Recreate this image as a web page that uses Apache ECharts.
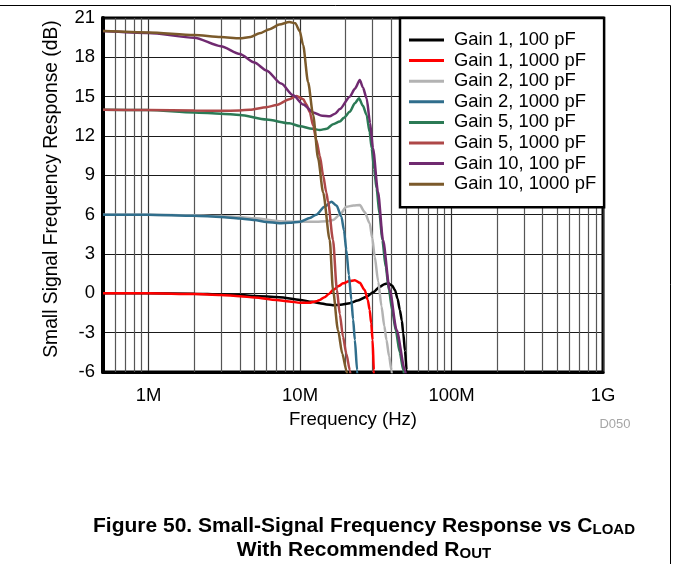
<!DOCTYPE html>
<html><head><meta charset="utf-8">
<script src="https://cdn.jsdelivr.net/npm/echarts@6/dist/echarts.min.js"></script>
<style>html,body{margin:0;padding:0;background:#fff}#c{width:673px;height:564px}</style>
</head><body><div id="c"></div>
<script>
// ---- data (frequency in MHz, response in dB) ----
const seriesNames = ['Gain 1, 100 pF','Gain 1, 1000 pF','Gain 2, 100 pF','Gain 2, 1000 pF','Gain 5, 100 pF','Gain 5, 1000 pF','Gain 10, 100 pF','Gain 10, 1000 pF'];
const seriesColors = ['#000000','#ff0000','#b3b3b3','#306e8c','#2b7a55','#ae4848','#702a70','#7b5a2b'];

const gain1_100pF = [[0.5,0.0],[1,0.0],[2,-0.03],[3,-0.08],[4,-0.13],[5,-0.2],[7.3,-0.3],[10,-0.5],[12,-0.65],[13.5,-0.75],[15,-0.85],[16.5,-0.9],[18.5,-0.88],[21.3,-0.76],[24,-0.55],[27.5,-0.26],[30.5,0.1],[33.6,0.5],[36,0.7],[38.2,0.76],[40.5,0.6],[42.3,0.25],[44,-0.4],[45.6,-1.27],[47,-2.1],[48,-3.05],[49.3,-4.4],[50.5,-5.85],[52,-8]];
const gain1_1000pF = [[0.5,0.0],[1,0.0],[2,-0.05],[3,-0.12],[4,-0.22],[5,-0.32],[7,-0.5],[8.5,-0.62],[10,-0.72],[11.5,-0.72],[12.8,-0.6],[13.5,-0.5],[14.5,-0.3],[15.5,-0.05],[16.5,0.25],[18,0.55],[19.2,0.76],[21,0.92],[23,1.0],[24.8,0.8],[26.7,0.25],[28,-0.5],[28.8,-1.27],[29.5,-2.3],[30.1,-3.56],[30.7,-5.85],[31.2,-8]];
const gain2_100pF = [[0.5,6.0],[1,6.0],[2,5.95],[3,5.9],[4,5.82],[5,5.72],[7.3,5.5],[10,5.46],[12.8,5.46],[15,5.5],[16.5,5.6],[18.3,6.0],[20.2,6.6],[22.5,6.7],[24.8,6.73],[26.7,6.2],[28.8,5.34],[30,4.2],[31.1,2.8],[32.8,0.9],[34.5,-1.0],[36,-2.5],[37.2,-3.56],[38.7,-4.8],[40.1,-5.85],[42,-8]];
const gain2_1000pF = [[0.5,6.0],[1,6.0],[2,5.92],[3,5.82],[4,5.7],[5,5.59],[6,5.45],[7.3,5.34],[8.5,5.38],[10,5.46],[11.6,5.75],[12.8,6.0],[14.5,6.6],[16.1,6.99],[17.4,6.7],[18.75,5.84],[19.5,4.8],[20.2,3.3],[21,1.4],[21.8,-0.5],[22.4,-2.0],[23,-3.56],[23.8,-5.85],[24.5,-8]];
const gain5_100pF = [[0.5,14.0],[1,13.98],[2,13.8],[3,13.7],[4,13.6],[6,13.25],[8.5,12.97],[10,12.75],[12,12.55],[13.5,12.46],[15,12.55],[16.5,12.9],[18.3,13.1],[19.5,13.4],[21.3,13.85],[23,14.5],[24.5,14.87],[26,14.3],[27.5,13.6],[28.8,12.3],[29.7,11.07],[30.8,9.5],[32,8.0],[33.5,6.0],[34.9,4.07],[36.8,2.0],[38.6,0.25],[40.6,-1.3],[42.8,-2.8],[45.5,-4.5],[48,-5.85],[50,-7],[52,-8]];
const gain5_1000pF = [[0.5,14.0],[1,13.98],[2,13.95],[3,13.92],[4,13.95],[4.65,14.0],[6,14.2],[7,14.36],[8.5,14.8],[9.46,15.05],[10.5,14.8],[11.02,14.4],[11.6,13.8],[12.2,12.8],[12.8,11.7],[13.5,10.5],[14.2,9.0],[14.9,7.7],[15.3,7.0],[16.5,4.07],[17.5,0.3],[18.3,-1.6],[19.2,-3.3],[20.2,-4.6],[21.3,-5.85],[22.5,-8]];
const gain10_100pF = [[0.5,20.0],[1,19.85],[2,19.5],[3,18.85],[4,18.25],[5,17.6],[6,17.0],[7.5,16.0],[9,15.1],[10.5,14.4],[12.2,13.8],[14,13.55],[15.7,13.5],[17,13.7],[18.3,14.05],[21.3,15.0],[23,15.6],[24.8,16.27],[26,15.7],[27.5,14.87],[29,13.0],[30.3,11.07],[32.7,7.75],[35.3,4.07],[39.1,0.25],[43.4,-2.8],[49.2,-5.85],[52,-7.5]];
const gain10_1000pF = [[0.5,20.0],[1,19.9],[2,19.7],[3,19.55],[4,19.45],[4.7,19.55],[5.4,19.83],[6.3,20.15],[7.3,20.5],[8.5,20.7],[9.3,20.6],[9.95,20.0],[10.47,18.94],[11.3,16.1],[12.2,13.6],[13.15,10.3],[14.2,7.7],[15.7,4.07],[16.5,0.25],[17.8,-2.8],[19,-4.6],[20.2,-5.85],[21.5,-8]];

const xTickValues = [1, 10, 100, 1000];
const xTickLabels = ['1M', '10M', '100M', '1G'];
const xMinorGrid = [0.6,0.7,0.8,0.9,2,3,4,5,6,7,8,9,20,30,40,50,60,70,80,90,200,300,400,500,600,700,800,900];
const yRange = [-6, 21];
const yStep = 3;

const seriesData = [gain1_100pF, gain1_1000pF, gain2_100pF, gain2_1000pF, gain5_100pF, gain5_1000pF, gain10_100pF, gain10_1000pF];

const FONT = "'Liberation Sans', Arial, sans-serif";
const chart = echarts.init(document.getElementById('c'), null, {renderer: 'canvas'});

const series = seriesNames.map((n, i) => ({
  name: n, type: 'line', data: seriesData[i], symbol: 'none', showSymbol: false,
  smooth: 0.25, smoothMonotone: 'x', clip: true, z: 3,
  lineStyle: {width: 2.5, color: seriesColors[i]}, itemStyle: {color: seriesColors[i]}
}));
series.unshift({
  name: 'minorGrid', type: 'line', data: [], silent: true, z: 1,
  markLine: {
    silent: true, symbol: ['none', 'none'], label: {show: false}, animation: false, z: 1,
    lineStyle: {color: '#555', width: 1.2, type: 'solid'},
    emphasis: {disabled: true},
    data: xMinorGrid.map(v => ({xAxis: v}))
  }
});

function xLabel(v) {
  for (let i = 0; i < xTickValues.length; i++) {
    if (Math.abs(Math.log10(v) - Math.log10(xTickValues[i])) < 1e-6) return xTickLabels[i];
  }
  return '';
}

chart.setOption({
  animation: false,
  backgroundColor: '#fff',
  textStyle: {fontFamily: FONT},
  grid: {left: 103, top: 18, width: 500, height: 354, show: true, borderColor: '#000', borderWidth: 3, backgroundColor: 'transparent'},
  legend: {
    data: seriesNames, orient: 'vertical', left: 400, top: 18,
    padding: [13, 8, 14, 9], itemGap: 2.6, itemWidth: 35, itemHeight: 3, icon: 'rect',
    backgroundColor: '#fff', borderColor: '#000', borderWidth: 2.5, selectedMode: false,
    textStyle: {fontSize: 18.4, color: '#000', fontFamily: FONT, lineHeight: 18, padding: [0, 0, 0, 5]}
  },
  xAxis: {
    type: 'log', logBase: 10, min: 0.5, max: 1000,
    name: 'Frequency (Hz)', nameLocation: 'middle', nameGap: 32,
    nameTextStyle: {fontSize: 18.6, color: '#000', fontFamily: FONT},
    axisLine: {show: true, onZero: false, lineStyle: {color: '#000', width: 3}},
    axisTick: {show: false},
    axisLabel: {formatter: xLabel, fontSize: 18.5, color: '#000', margin: 14, fontFamily: FONT, showMinLabel: true, showMaxLabel: true},
    splitLine: {show: true, lineStyle: {color: '#333', width: 1.2}}
  },
  yAxis: {
    type: 'value', min: yRange[0], max: yRange[1], interval: yStep,
    name: 'Small Signal Frequency Response (dB)', nameLocation: 'middle', nameGap: 42,
    nameTextStyle: {fontSize: 19.3, color: '#000', fontFamily: FONT, padding: [0, 0, 0, 12]},
    axisLine: {show: true, onZero: false, lineStyle: {color: '#000', width: 4}},
    axisTick: {show: false},
    axisLabel: {fontSize: 18.5, color: '#000', margin: 8, fontFamily: FONT},
    splitLine: {show: true, lineStyle: {color: '#1a1a1a', width: 1}}
  },
  graphic: [
    {type: 'polyline', silent: true, shape: {points: [[0, 5.5], [670.5, 5.5], [670.5, 564]]}, style: {stroke: '#000', lineWidth: 1, fill: null}},
    {type: 'text', x: 615, y: 424, silent: true, style: {text: 'D050', fill: '#a6a6a6', fontSize: 13, fontFamily: FONT, align: 'center', verticalAlign: 'middle'}},
    {type: 'text', x: 364, y: 526, silent: true, style: {
      text: '{m|Figure 50. Small-Signal Frequency Response vs C}{s|LOAD}', align: 'center', verticalAlign: 'middle',
      rich: {
        m: {fontSize: 21, fontWeight: 'bold', fontFamily: FONT, fill: '#000', lineHeight: 22},
        s: {fontSize: 15, fontWeight: 'bold', fontFamily: FONT, fill: '#000', lineHeight: 8, verticalAlign: 'bottom'}
      }}},
    {type: 'text', x: 364, y: 550, silent: true, style: {
      text: '{m|With Recommended R}{s|OUT}', align: 'center', verticalAlign: 'middle',
      rich: {
        m: {fontSize: 21, fontWeight: 'bold', fontFamily: FONT, fill: '#000', lineHeight: 22},
        s: {fontSize: 15, fontWeight: 'bold', fontFamily: FONT, fill: '#000', lineHeight: 8, verticalAlign: 'bottom'}
      }}}
  ],
  series: series
});
</script></body></html>
